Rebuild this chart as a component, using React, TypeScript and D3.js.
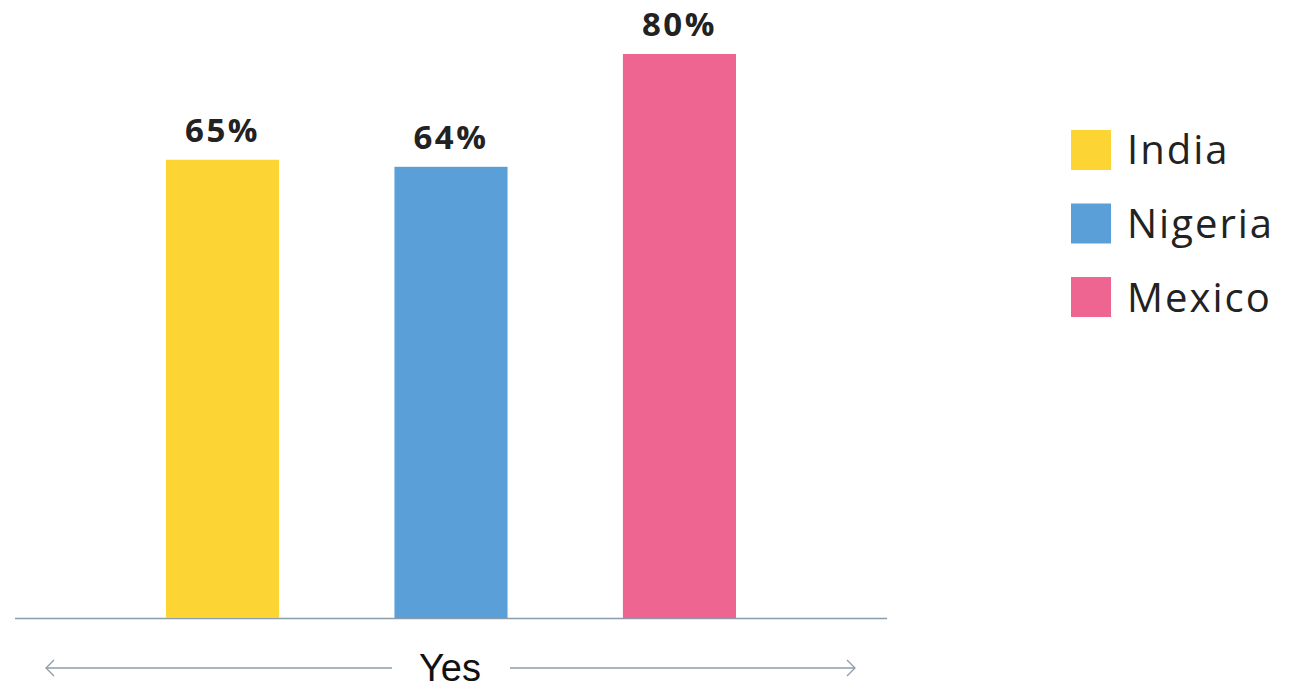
import React from "react";
import * as d3 from "d3";

const categories = ["India", "Nigeria", "Mexico"];
const values = [65, 64, 80];
const colors = ["#FCD535", "#5A9FD7", "#EF6591"];
const groupLabel = "Yes";

const W = 1292;
const H = 689;

export default function App() {
  const baseline = 618;
  const y = d3.scaleLinear().domain([0, 80]).range([baseline, 54]);
  const x = d3.scaleBand<string>().domain(categories).range([166, 736]).paddingInner(0.505).paddingOuter(0);
  const legendY = d3.scaleBand<string>().domain(categories).range([130, 317]).paddingInner(0.456).paddingOuter(0);
  const font = "'Open Sans', 'DejaVu Sans', sans-serif";
  return (
    <svg width={W} height={H} style={{ position: "absolute", left: 0, top: 0, background: "#fff" }}>
      <line x1={15} x2={887} y1={baseline + 0.5} y2={baseline + 0.5} stroke="#8C9CAA" strokeWidth={1.5} />
      {categories.map((c, i) => (
        <g key={c}>
          <rect x={x(c)} y={y(values[i])} width={x.bandwidth()} height={baseline - y(values[i])} fill={colors[i]} />
          <text
            x={(x(c) as number) + x.bandwidth() / 2}
            y={y(values[i]) - 18}
            textAnchor="middle"
            fontFamily={font}
            fontWeight={700}
            fontSize={33}
            letterSpacing={2.5}
            fill="#222"
          >
            {values[i]}%
          </text>
        </g>
      ))}
      <g stroke="#8C9CAA" strokeWidth={1.3} fill="none">
        <line x1={46} x2={392} y1={668} y2={668} />
        <polyline points="54,660 46,668 54,676" />
        <line x1={510} x2={855} y1={668} y2={668} />
        <polyline points="847,660 855,668 847,676" />
      </g>
      <text x={450} y={681} textAnchor="middle" fontFamily="'Liberation Sans', Arial, sans-serif" fontSize={38} fill="#111">
        {groupLabel}
      </text>
      {categories.map((c, i) => (
        <g key={"l" + c}>
          <rect x={1071} y={legendY(c)} width={40} height={legendY.bandwidth()} fill={colors[i]} />
          <text
            x={1127}
            y={(legendY(c) as number) + legendY.bandwidth() / 2 + 14.5}
            fontFamily={font}
            fontWeight={500}
            fontSize={40}
            letterSpacing={2}
            fill="#222"
          >
            {c}
          </text>
        </g>
      ))}
    </svg>
  );
}
